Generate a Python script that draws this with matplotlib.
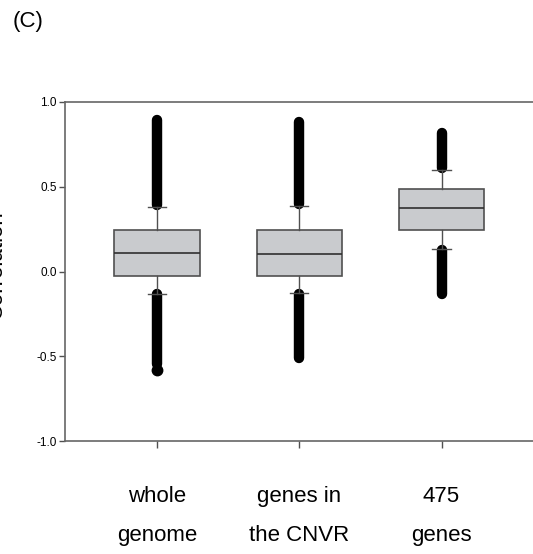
import matplotlib
matplotlib.use("Agg")
import matplotlib.pyplot as plt

plt.rcParams['font.family'] = ['Liberation Sans', 'DejaVu Sans']

# box statistics
groups = ["whole\ngenome", "genes in\nthe CNVR", "475\ngenes"]
q1 = [-0.025, -0.025, 0.247]
med = [0.107, 0.103, 0.373]
q3 = [0.247, 0.247, 0.487]
whislo = [-0.131, -0.125, 0.133]
whishi = [0.379, 0.388, 0.599]
# outliers form dense columns: (low end, high end) of each run of points
flier_hi = [(0.39, 0.895), (0.40, 0.88), (0.61, 0.82)]
flier_lo = [(-0.135, -0.545), (-0.13, -0.51), (0.125, -0.135)]
flier_extra = [[-0.58], [], []]

W, H = 533, 554
fig = plt.figure(figsize=(W / 100, H / 100), dpi=100)
ax = fig.add_axes([65 / W, 1 - 441 / H, (W - 65) / W + 0.01, (441 - 102) / H])

stats = []
for i in range(3):
    stats.append({"med": med[i], "q1": q1[i], "q3": q3[i],
                  "whislo": whislo[i], "whishi": whishi[i], "fliers": []})

edge = "#505050"
ax.bxp(stats, positions=[1, 2, 3], widths=0.6, patch_artist=True,
       showfliers=False,
       boxprops=dict(facecolor="#c9cbce", edgecolor=edge, linewidth=1.2),
       medianprops=dict(color="#303030", linewidth=1.2),
       whiskerprops=dict(color=edge, linewidth=1.0),
       capprops=dict(color=edge, linewidth=1.0),
       capwidths=0.13)

for i in range(3):
    x = i + 1
    for lo, hi in (flier_hi[i], flier_lo[i]):
        ax.plot([x, x], [lo, hi], color="black", linewidth=7.5,
                solid_capstyle="round", zorder=1)
    for v in flier_extra[i]:
        ax.plot([x], [v], "o", color="black", markersize=7.5, zorder=1)

ax.set_xlim(0.354, 3.68)
ax.set_ylim(-1.0, 1.0)
ax.set_yticks([-1.0, -0.5, 0.0, 0.5, 1.0])
ax.set_yticklabels(["-1.0", "-0.5", "0.0", "0.5", "1.0"])
ax.set_xticks([1, 2, 3])
ax.set_xticklabels([])
ax.tick_params(axis="y", labelsize=8.5, length=4, width=1, color=edge, pad=2)
ax.tick_params(axis="x", length=5, width=1, color=edge)
for s in ax.spines.values():
    s.set_color("#666666")
    s.set_linewidth(1.2)
ax.spines["right"].set_visible(False)

for i, g in enumerate(groups):
    ax.text(i + 1, -1.265, g, ha="center", va="top", fontsize=16,
            linespacing=2.1, transform=ax.transData)

# y label is partly cut off at the left edge, as in the reference
fig.text(7 / W, 1 - 265 / H, "Correlation", rotation=90, ha="right",
         va="center", fontsize=16)
fig.text(13 / W, 1 - 11 / H, "(C)", ha="left", va="top", fontsize=16)

fig.savefig("out.png", dpi=100)
